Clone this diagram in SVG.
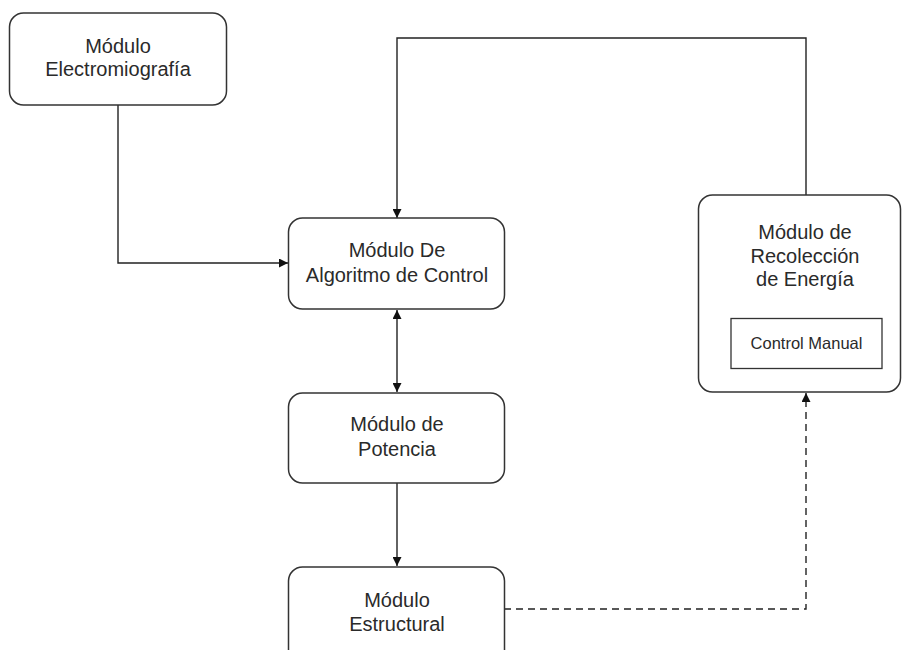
<svg xmlns="http://www.w3.org/2000/svg" width="903" height="650" viewBox="0 0 903 650">
<defs>
<style>
.box{fill:#fff;stroke:#333;stroke-width:1.5}
.t{font-family:"Liberation Sans",Arial,sans-serif;font-size:20px;fill:#2a2a2a;text-anchor:middle}
.s{font-family:"Liberation Sans",Arial,sans-serif;font-size:16.5px;fill:#2a2a2a;text-anchor:middle}
.c{fill:none;stroke:#222;stroke-width:1.4}
.d{fill:none;stroke:#222;stroke-width:1.4;stroke-dasharray:7,5}
</style>
<marker id="ah" viewBox="0 0 10 10" refX="10" refY="5" markerWidth="9" markerHeight="9" markerUnits="userSpaceOnUse" orient="auto-start-reverse">
<path d="M0,0 L10,5 L0,10 z" fill="#111"/>
</marker>
</defs>
<rect width="903" height="650" fill="#fff"/>
<g id="connectors">
<path class="c" d="M118,105 V263 H288" marker-end="url(#ah)"/>
<path class="c" d="M806,195 V38 H397 V218" marker-end="url(#ah)"/>
<path class="c" d="M397,310 V392" marker-start="url(#ah)" marker-end="url(#ah)"/>
<path class="c" d="M397,483 V566" marker-end="url(#ah)"/>
<path class="d" d="M504,609 H806 V393" marker-end="url(#ah)"/>
</g>
<g id="electromiografia">
<rect class="box" x="9.5" y="13" width="217" height="92" rx="14"/>
<text class="t" x="118" y="53">Módulo</text>
<text class="t" x="118" y="76">Electromiografía</text>
</g>
<g id="algoritmo">
<rect class="box" x="288.5" y="218" width="216" height="91" rx="14"/>
<text class="t" x="397" y="257">Módulo De</text>
<text class="t" x="397" y="282">Algoritmo de Control</text>
</g>
<g id="potencia">
<rect class="box" x="288.5" y="393" width="216" height="90" rx="14"/>
<text class="t" x="397" y="431">Módulo de</text>
<text class="t" x="397" y="456">Potencia</text>
</g>
<g id="estructural">
<rect class="box" x="288.5" y="567" width="216" height="100" rx="14"/>
<text class="t" x="397" y="607">Módulo</text>
<text class="t" x="397" y="631">Estructural</text>
</g>
<g id="recoleccion">
<rect class="box" x="698.5" y="195" width="202" height="197" rx="14"/>
<text class="t" x="805" y="239">Módulo de</text>
<text class="t" x="805" y="263">Recolección</text>
<text class="t" x="805" y="286">de Energía</text>
<g id="control-manual">
<rect x="731" y="318.5" width="151" height="50" fill="#fff" stroke="#333" stroke-width="1.3"/>
<text class="s" x="806.5" y="349">Control Manual</text>
</g>
</g>
</svg>
